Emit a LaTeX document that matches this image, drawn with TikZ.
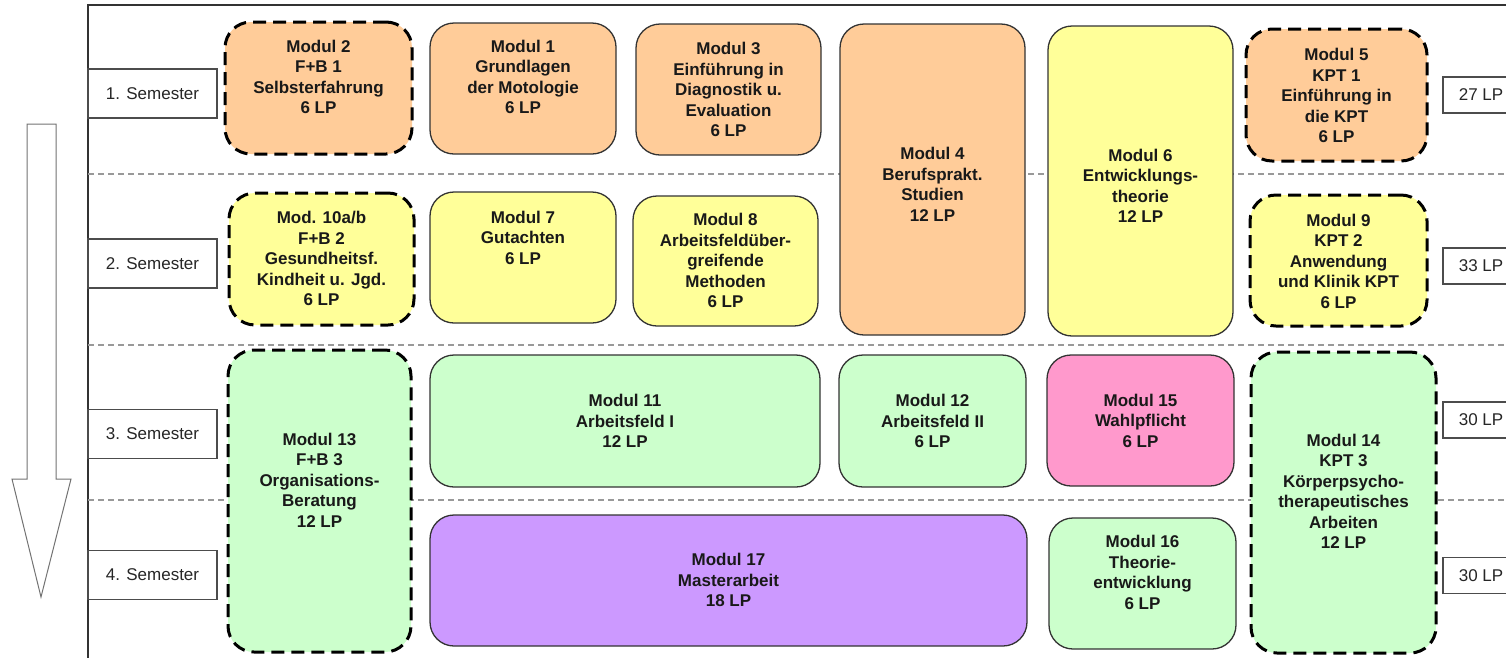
\documentclass[tikz,border=0pt]{standalone}
\usepackage{fontspec}
\setmainfont{Liberation Sans}
\definecolor{orng}{HTML}{FFCC99}
\definecolor{yell}{HTML}{FFFF99}
\definecolor{grn}{HTML}{CCFFCC}
\definecolor{pnk}{HTML}{FF99CC}
\definecolor{purp}{HTML}{CC99FF}
\definecolor{edge}{HTML}{333333}
\begin{document}
\begin{tikzpicture}[x=1pt,y=-1pt,
  modbox/.style={draw=edge,line width=1.3pt,rounded corners=24pt,inner sep=0pt,outer sep=0pt},
  dashbox/.style={draw=black,line width=3pt,dash pattern=on 13pt off 7pt,rounded corners=26pt,inner sep=0pt,outer sep=0pt},
  modtxt/.style={align=center,inner sep=0pt,font=\bfseries\fontsize{17}{20.5}\selectfont,text=black!90},
  sembox/.style={draw=black!70,line width=1.4pt,fill=white,minimum width=129pt,minimum height=49pt,inner sep=0pt,font=\fontsize{17}{20}\selectfont,text=black!85},
  lpbox/.style={draw=black!70,line width=1.4pt,fill=white,minimum width=76pt,minimum height=36pt,inner sep=0pt,font=\fontsize{17}{20}\selectfont,text=black!85},
  semline/.style={draw=black!40,line width=1.2pt,dash pattern=on 6pt off 4pt}]
\useasboundingbox (0,0) rectangle (1506,657);
% frame
\draw[edge,line width=1.5pt] (88,680) -- (88,5) -- (1530,5);
% semester separators
\coordinate (s1a) at (88,174); \coordinate (s1b) at (1506,174);
\coordinate (s2a) at (88,345); \coordinate (s2b) at (1506,345);
\coordinate (s3a) at (88,500); \coordinate (s3b) at (1506,500);
\draw[semline] (s1a) -- (s1b);
\draw[semline] (s2a) -- (s2b);
\draw[semline] (s3a) -- (s3b);
% arrow
\draw[black!55,line width=1pt,fill=white] (27,124) -- (56,124) -- (56,479) -- (71,479) -- (41,597) -- (12,479) -- (27,479) -- cycle;
% semester boxes
\node[sembox] (sem1) at (152.5,93.5) {1. Semester};
\node[sembox] (sem2) at (152.5,263.5) {2. Semester};
\node[sembox] (sem3) at (152.5,434) {3. Semester};
\node[sembox] (sem4) at (152.5,575) {4. Semester};
% LP boxes
\node[lpbox] (lp1) at (1481,95) {27 LP};
\node[lpbox] (lp2) at (1481,266) {33 LP};
\node[lpbox] (lp3) at (1481,420) {30 LP};
\node[lpbox] (lp4) at (1481,575.5) {30 LP};
% modules, semester 1
\node[dashbox,fill=orng,minimum width=187pt,minimum height=132pt] (m2) at (318.5,88) {};
\node[modtxt] (t2) at (318.5,77) {Modul 2\\F+B 1\\Selbsterfahrung\\6 LP};
\node[modbox,fill=orng,minimum width=186pt,minimum height=131pt] (m1) at (523,88.5) {};
\node[modtxt] (t1) at (523,77) {Modul 1\\Grundlagen\\der Motologie\\6 LP};
\node[modbox,fill=orng,minimum width=185pt,minimum height=131pt] (m3) at (728.5,89.5) {};
\node[modtxt] (t3) at (728.5,89.5) {Modul 3\\Einführung in\\Diagnostik u.\\Evaluation\\6 LP};
\node[modbox,fill=orng,minimum width=185pt,minimum height=311pt] (m4) at (932.5,179.5) {};
\node[modtxt] (t4) at (932.5,184.5) {Modul 4\\Berufsprakt.\\Studien\\12 LP};
\node[modbox,fill=yell,minimum width=185pt,minimum height=310pt] (m6) at (1140.5,181) {};
\node[modtxt] (t6) at (1140.5,186) {Modul 6\\Entwicklungs-\\theorie\\12 LP};
\node[dashbox,fill=orng,minimum width=181pt,minimum height=132pt] (m5) at (1336.5,95) {};
\node[modtxt] (t5) at (1336.5,95.5) {Modul 5\\KPT 1\\Einführung in\\die KPT\\6 LP};
% semester 2
\node[dashbox,fill=yell,minimum width=185pt,minimum height=132pt] (m10) at (321.5,259) {};
\node[modtxt] (t10) at (321.5,258.5) {Mod. 10a/b\\F+B 2\\Gesundheitsf.\\Kindheit u. Jgd.\\6 LP};
\node[modbox,fill=yell,minimum width=186pt,minimum height=131pt] (m7) at (523,257.5) {};
\node[modtxt] (t7) at (523,237.5) {Modul 7\\Gutachten\\6 LP};
\node[modbox,fill=yell,minimum width=185pt,minimum height=130pt] (m8) at (725.5,261) {};
\node[modtxt] (t8) at (725.5,260.5) {Modul 8\\Arbeitsfeldüber-\\greifende\\Methoden\\6 LP};
\node[dashbox,fill=yell,minimum width=177pt,minimum height=131pt] (m9) at (1338.5,260.5) {};
\node[modtxt] (t9) at (1338.5,261) {Modul 9\\KPT 2\\Anwendung\\und Klinik KPT\\6 LP};
% semester 3 and 4
\node[dashbox,fill=grn,minimum width=183pt,minimum height=302pt] (m13) at (319.5,501) {};
\node[modtxt] (t13) at (319.5,480) {Modul 13\\F+B 3\\Organisations-\\Beratung\\12 LP};
\node[modbox,fill=grn,minimum width=390pt,minimum height=132pt] (m11) at (625,421) {};
\node[modtxt] (t11) at (625,421) {Modul 11\\Arbeitsfeld I\\12 LP};
\node[modbox,fill=grn,minimum width=187pt,minimum height=132pt] (m12) at (932.5,421) {};
\node[modtxt] (t12) at (932.5,421) {Modul 12\\Arbeitsfeld II\\6 LP};
\node[modbox,fill=pnk,minimum width=187pt,minimum height=131pt] (m15) at (1140.5,420.5) {};
\node[modtxt] (t15) at (1140.5,420.5) {Modul 15\\Wahlpflicht\\6 LP};
\node[dashbox,fill=grn,minimum width=185pt,minimum height=301pt] (m14) at (1343.5,502.5) {};
\node[modtxt] (t14) at (1343.5,491.5) {Modul 14\\KPT 3\\Körperpsycho-\\therapeutisches\\Arbeiten\\12 LP};
\node[modbox,fill=purp,minimum width=597pt,minimum height=131pt] (m17) at (728.5,580.5) {};
\node[modtxt] (t17) at (728.5,580) {Modul 17\\Masterarbeit\\18 LP};
\node[modbox,fill=grn,minimum width=187pt,minimum height=131pt] (m16) at (1142.5,583.5) {};
\node[modtxt] (t16) at (1142.5,572.5) {Modul 16\\Theorie-\\entwicklung\\6 LP};
\end{tikzpicture}
\end{document}
